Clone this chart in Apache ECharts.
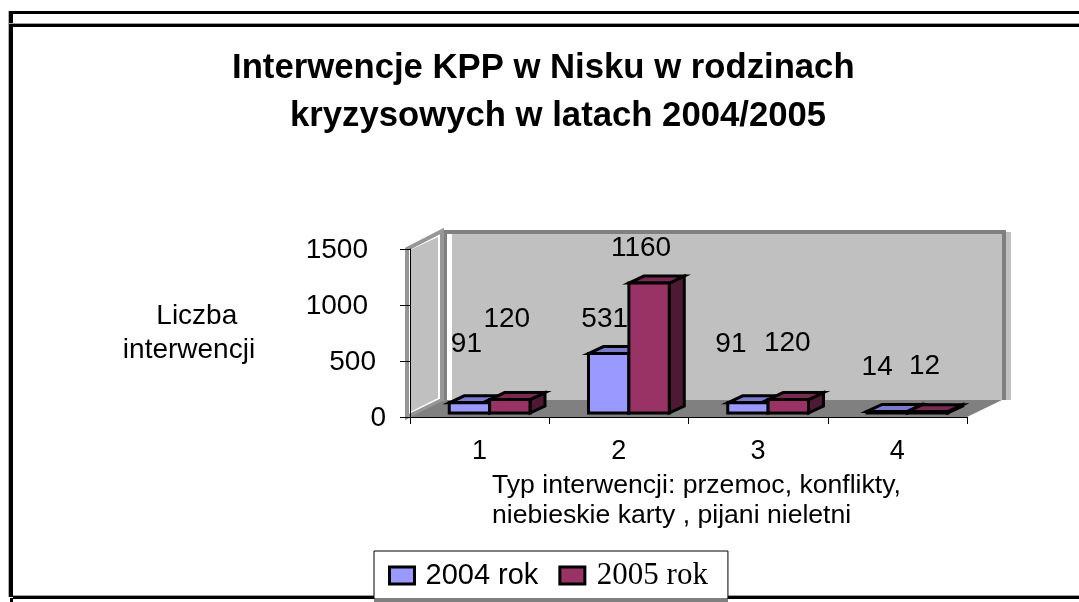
<!DOCTYPE html>
<html>
<head>
<meta charset="utf-8">
<style>
  html, body { margin: 0; padding: 0; background: #fff; }
  #chart { width: 1079px; height: 602px; }
</style>
<script src="https://cdn.jsdelivr.net/npm/echarts@6/dist/echarts.min.js"></script>
</head>
<body>
<div id="chart"></div>
<script>
// Chart data
const categories = ['1', '2', '3', '4'];
const values2004 = [91, 531, 91, 14];
const values2005 = [120, 1160, 120, 12];
const seriesNames = ['2004 rok', '2005 rok'];
const yTicksInterval = 500;
const yMax = 1500;

// The data labels were dragged by hand in the original, so each has its own shift from the bar top
const labelShift2004 = [[-3, -59], [-4, -34], [-17, -59], [-10, -44]];
const labelShift2005 = [[-3, -80], [-8, -35], [-1, -56], [-3, -45]];

const SANS = '"Liberation Sans", Arial, sans-serif';
const SERIF = '"Liberation Serif", "Times New Roman", serif';

// Fake 3D layout
const WALL_DX = 35, WALL_DY = 17;
const BAR_DX = 15, BAR_DY = 7;
const BAR_SHIFT_X = 10, BAR_SHIFT_Y = -4;

const chart = echarts.init(document.getElementById('chart'));

// Back wall, side wall and floor, placed from the grid rectangle
function renderWalls(params, api) {
  const g = params.coordSys;
  const left = g.x, right = g.x + g.width, top = g.y, bottom = g.y + g.height;
  const backL = left + WALL_DX, backR = right + WALL_DX + 2;
  const backT = top - WALL_DY, backB = bottom - WALL_DY;
  return {
    type: 'group',
    children: [
      // back wall fill, sticks out a little on the right like the original
      { type: 'rect', shape: { x: backL + 7, y: backT, width: backR - backL, height: backB - backT },
        style: { fill: '#c0c0c0' } },
      { type: 'polyline', shape: { points: [[backL, backB], [backL, backT], [backR, backT], [backR, backB]] },
        style: { stroke: '#808080', lineWidth: 4, fill: null } },
      // side wall
      { type: 'polygon', shape: { points: [[left - 3, top], [backL - 3, backT - 1], [backL - 3, backB], [left - 3, bottom]] },
        style: { fill: '#fff', stroke: '#969696', lineWidth: 4 } },
      { type: 'polygon', shape: { points: [[left, top + 1], [backL - 7, backT + 5], [backL - 7, backB - 2], [left, bottom - 5]] },
        style: { fill: '#c0c0c0' } },
      // floor
      { type: 'polygon', shape: { points: [[left, bottom], [backL, backB], [right + WALL_DX, backB], [right, bottom]] },
        style: { fill: '#808080' } }
    ]
  };
}

function makeBarRenderer(seriesIdx, colors, shifts, barValues) {
  return function (params, api) {
    const idx = api.value(0);
    const val = api.value(1);
    const base = api.coord([idx, 0]);
    const top = api.coord([idx, val]);
    const band = api.size([1, 0])[0];
    const w = band * 0.29;
    const x0 = base[0] + BAR_SHIFT_X + (seriesIdx === 0 ? -w : 0);
    const x1 = x0 + w;
    const yB = base[1] + BAR_SHIFT_Y;
    const yT = top[1] + BAR_SHIFT_Y;
    const edge = { stroke: '#000', lineWidth: 3, lineJoin: 'miter' };
    return {
      type: 'group',
      children: [
        { type: 'polygon', shape: { points: [[x1, yB], [x1 + BAR_DX, yB - BAR_DY], [x1 + BAR_DX, yT - BAR_DY], [x1, yT]] },
          style: Object.assign({ fill: colors.side }, edge) },
        { type: 'polygon', shape: { points: [[x0, yT], [x0 + BAR_DX, yT - BAR_DY], [x1 + BAR_DX, yT - BAR_DY], [x1, yT]] },
          style: Object.assign({ fill: colors.top }, edge) },
        { type: 'rect', shape: { x: x0, y: yT, width: w, height: yB - yT },
          style: Object.assign({ fill: colors.front }, edge) },
        { type: 'text', z2: 50, style: {
            text: String(barValues[idx]),
            x: (x0 + x1) / 2 + shifts[idx][0],
            y: yT + shifts[idx][1],
            align: 'center', verticalAlign: 'middle',
            font: '28px ' + SANS, fill: '#000'
          } }
      ]
    };
  };
}

function barData(values) {
  return values.map((v, i) => [i, v]);
}

// right padding per tick, the original labels do not line up on the right
const yLabelPad = { 0: 0, 500: 10, 1000: 18, 1500: 18 };

const option = {
  animation: false,
  backgroundColor: '#fff',
  title: [
    { text: 'Interwencje KPP w Nisku w rodzinach', left: 227, top: 46,
      textStyle: { fontFamily: SANS, fontWeight: 'bold', fontSize: 34.7, color: '#000' } },
    { text: 'kryzysowych w latach 2004/2005', left: 285, top: 94,
      textStyle: { fontFamily: SANS, fontWeight: 'bold', fontSize: 34.7, color: '#000' } }
  ],
  legend: {
    data: [
      { name: seriesNames[0], textStyle: { fontFamily: SANS, padding: [0, 0, 0, 6] } },
      { name: seriesNames[1], textStyle: { fontFamily: SERIF, fontSize: 31, padding: [12, 0, 0, 7] } }
    ],
    left: 374, top: 551,
    padding: [9, 20, 8, 14],
    icon: 'rect',
    itemWidth: 25, itemHeight: 17,
    itemGap: 20,
    backgroundColor: '#fff',
    borderColor: '#000',
    borderWidth: 1,
    itemStyle: { borderColor: '#000', borderWidth: 3 },
    textStyle: { fontSize: 29, color: '#000' },
    selectedMode: false
  },
  grid: { left: 410, top: 249, width: 557, height: 168, outerBoundsMode: 'none' },
  xAxis: {
    type: 'category',
    data: categories,
    z: 3,
    name: 'Typ interwencji: przemoc, konflikty,\nniebieskie karty , pijani nieletni',
    nameLocation: 'start',
    nameGap: -82,
    nameMoveOverlap: false,
    nameTextStyle: { fontFamily: SANS, fontSize: 26.6, color: '#000', align: 'left', verticalAlign: 'top', padding: [54, 0, 0, 0], lineHeight: 30 },
    axisLine: { lineStyle: { color: '#000', width: 1 } },
    axisTick: { show: true, alignWithLabel: false, length: 7, lineStyle: { color: '#000' } },
    axisLabel: { fontFamily: SANS, fontSize: 27, color: '#000', margin: 21 },
    splitLine: { show: false }
  },
  yAxis: {
    type: 'value',
    min: 0,
    max: yMax,
    interval: yTicksInterval,
    z: 3,
    name: '\u00a0\u00a0Liczba\ninterwencji',
    nameLocation: 'middle',
    nameRotate: 0,
    nameGap: 221,
    nameMoveOverlap: false,
    nameTextStyle: { fontFamily: SANS, fontSize: 28, color: '#000', align: 'center', lineHeight: 34, padding: [7, 0, 0, 0] },
    axisLine: { show: true, lineStyle: { color: '#000', width: 1 } },
    axisTick: { show: true, length: 10, lineStyle: { color: '#000' } },
    axisLabel: {
      margin: 24,
      formatter: function (v) { return '{p' + yLabelPad[v] + '|' + v + '}'; },
      rich: {
        p0: { fontFamily: SANS, fontSize: 28, color: '#000', padding: [3, 0, 0, 0] },
        p10: { fontFamily: SANS, fontSize: 28, color: '#000', padding: [3, 10, 0, 0] },
        p18: { fontFamily: SANS, fontSize: 28, color: '#000', padding: [3, 18, 0, 0] }
      }
    },
    splitLine: { show: false }
  },
  series: [
    { type: 'custom', name: 'walls', z: 1, silent: true, renderItem: renderWalls, data: [[0, 0]], clip: false },
    { type: 'custom', name: seriesNames[0], z: 5, silent: true, clip: false,
      itemStyle: { color: '#9999ff' },
      renderItem: makeBarRenderer(0, { front: '#9999ff', top: '#7a7acc', side: '#4c4c80' }, labelShift2004, values2004),
      data: barData(values2004) },
    { type: 'custom', name: seriesNames[1], z: 6, silent: true, clip: false,
      itemStyle: { color: '#993366' },
      renderItem: makeBarRenderer(1, { front: '#993366', top: '#7a2952', side: '#4d1933' }, labelShift2005, values2005),
      data: barData(values2005) }
  ],
  // Page frame: the two lines on top, left side, bottom line
  graphic: [
    { type: 'rect', z: -1, shape: { x: 8, y: 11, width: 1, height: 586 }, style: { fill: '#b0b0b0' } },
    { type: 'rect', z: -1, shape: { x: 9, y: 11, width: 4, height: 586 }, style: { fill: '#000' } },
    { type: 'rect', z: -1, shape: { x: 9, y: 11, width: 1070, height: 3 }, style: { fill: '#000' } },
    { type: 'rect', z: -1, shape: { x: 9, y: 23, width: 1070, height: 1 }, style: { fill: '#a0a0a0' } },
    { type: 'rect', z: -1, shape: { x: 9, y: 24, width: 1070, height: 3 }, style: { fill: '#000' } },
    { type: 'rect', z: -1, shape: { x: 13, y: 595, width: 1066, height: 1 }, style: { fill: '#a0a0a0' } },
    { type: 'rect', z: -1, shape: { x: 13, y: 596, width: 1066, height: 3 }, style: { fill: '#000' } },
    { type: 'rect', z: -1, shape: { x: 10, y: 598, width: 3, height: 4 }, style: { fill: '#000' } },
    { type: 'rect', z: 100, shape: { x: 374, y: 600, width: 354, height: 2 }, style: { fill: '#808080' } }
  ]
};

chart.setOption(option);
</script>
</body>
</html>
